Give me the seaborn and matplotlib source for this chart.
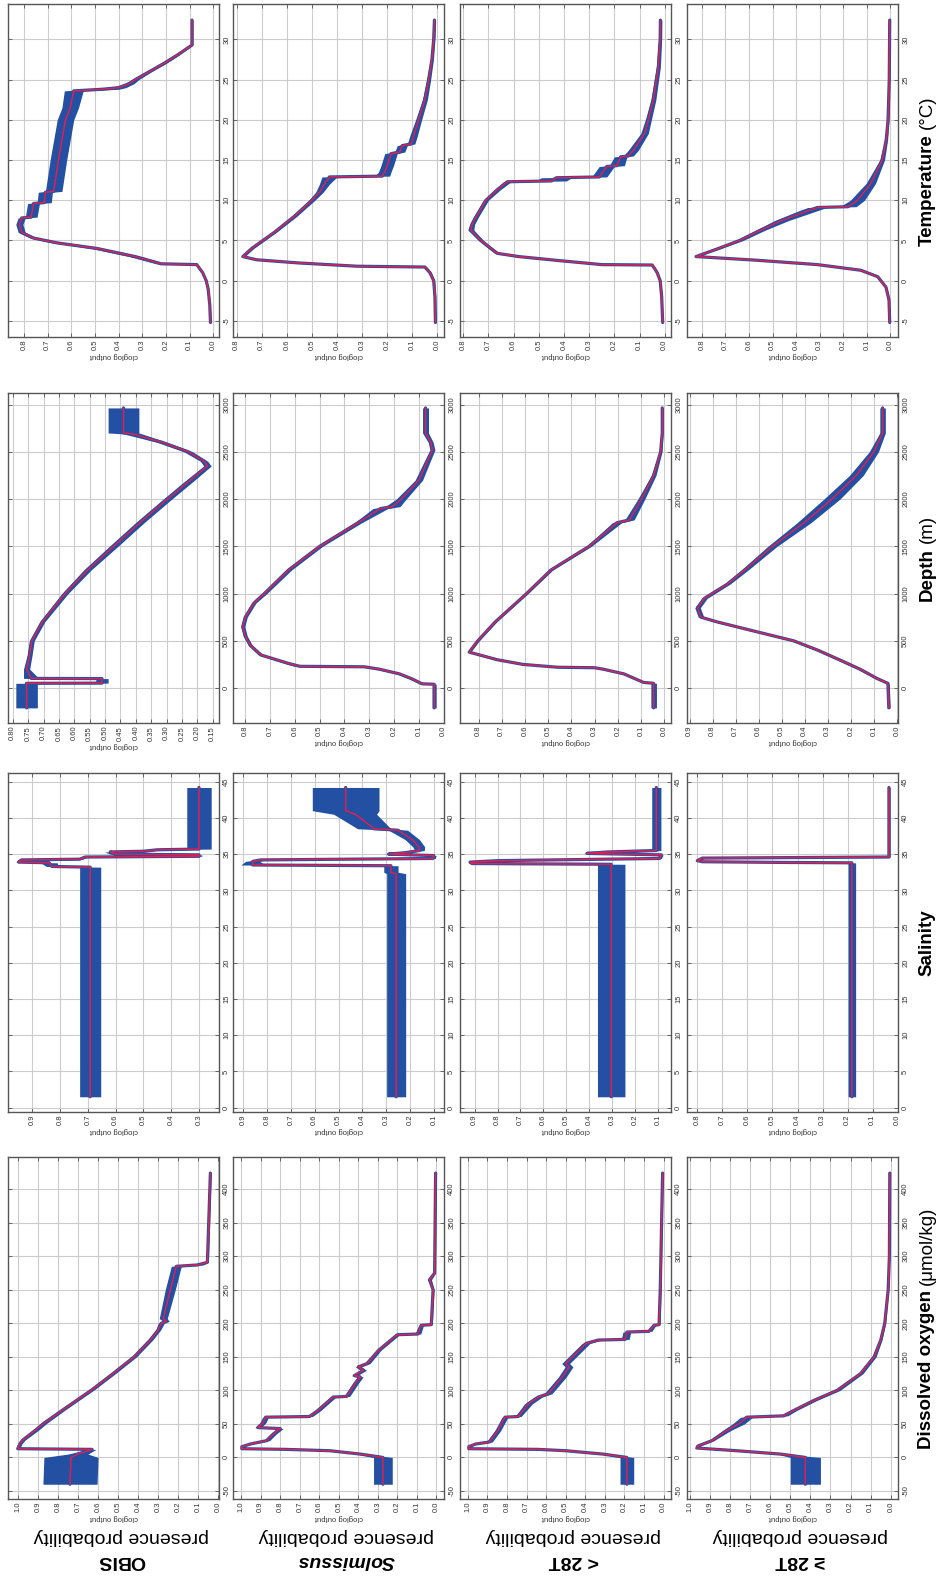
"""
MaxEnt response curves (cloglog output) for four presence sets and four
environmental variables; the whole figure is laid out turned a quarter turn,
so each variable runs up the panel and the probability runs right-to-left.
"""

import numpy as np
import matplotlib
matplotlib.use("Agg")
import matplotlib.pyplot as plt
import matplotlib.ticker as mticker
import seaborn as sns

# ── Data ──────────────────────────────────────────────────────────────────────
# per panel: variable value, mean cloglog output, half width of the band

# Temperature (°C)
temp_obis_x = [-5.2, -3, -1, 0, 1, 1.8, 2.0, 2.1, 3.0, 4.0, 4.7, 5.3, 6.0, 7.0, 7.8, 7.9, 9.6,
               9.7, 11.0, 11.1, 15.0, 20.0, 21.5, 23.6, 23.8, 24.0, 24.5, 25.0, 26.0, 27.0,
               28.0, 29.0, 29.3, 32.4]
temp_obis_y = [0.012, 0.015, 0.022, 0.03, 0.045, 0.065, 0.07, 0.22, 0.33, 0.49, 0.66, 0.76,
               0.81, 0.82, 0.81, 0.77, 0.76, 0.715, 0.71, 0.675, 0.655, 0.625, 0.605, 0.59,
               0.47, 0.40, 0.355, 0.33, 0.27, 0.21, 0.155, 0.105, 0.09, 0.09]
temp_obis_w = [0.003, 0.003, 0.003, 0.003, 0.003, 0.003, 0.003, 0.02, 0.025, 0.025, 0.02,
               0.015, 0.015, 0.015, 0.015, 0.025, 0.025, 0.03, 0.03, 0.035, 0.035, 0.035,
               0.035, 0.04, 0.07, 0.03, 0.02, 0.015, 0.01, 0.01, 0.008, 0.005, 0.004, 0.004]

temp_sol_x = [-5.2, -2, 0, 1, 1.7, 1.8, 2.2, 2.6, 3.0, 4.0, 6.0, 8.0, 10.0, 11.0, 12.0, 12.9,
              13.0, 13.5, 14.3, 15.8, 16.0, 16.8, 17.0, 18.0, 20.0, 22.5, 25.0, 27.5, 30.0, 32.4]
temp_sol_y = [0.008, 0.01, 0.015, 0.03, 0.05, 0.32, 0.55, 0.72, 0.775, 0.74, 0.65, 0.57, 0.50,
              0.47, 0.45, 0.43, 0.22, 0.21, 0.20, 0.185, 0.15, 0.14, 0.105, 0.095, 0.075, 0.05,
              0.035, 0.022, 0.015, 0.012]
temp_sol_w = [0.003, 0.003, 0.004, 0.006, 0.008, 0.02, 0.015, 0.01, 0.008, 0.008, 0.008, 0.01,
              0.012, 0.015, 0.02, 0.03, 0.03, 0.025, 0.025, 0.025, 0.02, 0.02, 0.015, 0.015,
              0.012, 0.01, 0.008, 0.006, 0.005, 0.005]

temp_lo_x = [-5.2, -2, 0, 1.0, 1.5, 1.95, 2.0, 2.5, 3.0, 3.4, 4.0, 5.0, 6.3, 7.0, 7.9, 10.0,
             11.3, 12.3, 12.4, 12.8, 12.9, 14.2, 14.3, 15.4, 15.5, 16.2, 18.3, 20.0, 22.5,
             26.6, 30.0, 32.4]
temp_lo_y = [0.008, 0.012, 0.018, 0.03, 0.04, 0.05, 0.25, 0.42, 0.58, 0.665, 0.69, 0.73, 0.77,
             0.765, 0.75, 0.71, 0.665, 0.625, 0.45, 0.43, 0.26, 0.23, 0.19, 0.175, 0.145, 0.125,
             0.08, 0.065, 0.045, 0.025, 0.018, 0.017]
temp_lo_w = [0.002, 0.002, 0.003, 0.004, 0.005, 0.005, 0.02, 0.02, 0.015, 0.01, 0.01, 0.01,
             0.012, 0.01, 0.01, 0.01, 0.012, 0.015, 0.06, 0.06, 0.03, 0.03, 0.03, 0.025, 0.02,
             0.02, 0.015, 0.012, 0.01, 0.008, 0.006, 0.006]

temp_hi_x = [-5.2, -2.4, -0.8, 0.5, 1.3, 2.0, 2.55, 3.0, 4.0, 5.0, 6.3, 7.5, 8.8, 9.1, 9.2,
             10.0, 12.1, 15.0, 17.5, 20.0, 25.0, 32.4]
temp_hi_y = [0.003, 0.006, 0.019, 0.054, 0.126, 0.31, 0.57, 0.825, 0.73, 0.64, 0.55, 0.46, 0.34,
             0.31, 0.18, 0.14, 0.083, 0.035, 0.018, 0.01, 0.005, 0.003]
temp_hi_w = [0.002, 0.002, 0.004, 0.006, 0.008, 0.01, 0.01, 0.005, 0.01, 0.015, 0.02, 0.03,
             0.04, 0.04, 0.035, 0.03, 0.02, 0.01, 0.006, 0.004, 0.002, 0.002]

# Depth (m)
depth_obis_x = [-210, 50, 52, 100, 102, 200, 350, 500, 700, 1000, 1250, 1500, 1750, 2000, 2200,
                2350, 2400, 2500, 2600, 2690, 2700, 2965]
depth_obis_y = [0.755, 0.755, 0.51, 0.51, 0.74, 0.755, 0.745, 0.738, 0.704, 0.63, 0.557, 0.472,
                0.387, 0.297, 0.223, 0.167, 0.178, 0.229, 0.314, 0.41, 0.44, 0.44]
depth_obis_w = [0.035, 0.035, 0.02, 0.02, 0.025, 0.01, 0.008, 0.008, 0.008, 0.01, 0.012, 0.014,
                0.014, 0.014, 0.014, 0.012, 0.012, 0.014, 0.016, 0.03, 0.05, 0.05]

depth_sol_x = [-210, 40, 45, 100, 150, 200, 225, 230, 260, 350, 450, 550, 650, 750, 900, 1000,
               1250, 1500, 1750, 1900, 1920, 2000, 2200, 2400, 2520, 2600, 2700, 2965]
depth_sol_y = [0.038, 0.038, 0.087, 0.13, 0.178, 0.26, 0.32, 0.58, 0.625, 0.737, 0.779, 0.80,
               0.81, 0.80, 0.765, 0.723, 0.625, 0.50, 0.345, 0.255, 0.206, 0.171, 0.10, 0.066,
               0.045, 0.052, 0.073, 0.073]
depth_sol_w = [0.008, 0.008, 0.01, 0.012, 0.012, 0.015, 0.02, 0.02, 0.015, 0.01, 0.008, 0.008,
               0.008, 0.008, 0.008, 0.01, 0.012, 0.012, 0.015, 0.03, 0.03, 0.02, 0.015, 0.012,
               0.01, 0.01, 0.012, 0.012]

depth_lo_x = [-210, 50, 60, 150, 200, 215, 220, 250, 300, 380, 500, 700, 1000, 1250, 1500, 1750,
              1780, 2000, 2250, 2500, 2700, 2965]
depth_lo_y = [0.046, 0.046, 0.09, 0.174, 0.264, 0.30, 0.458, 0.608, 0.72, 0.84, 0.803, 0.728,
              0.593, 0.488, 0.324, 0.204, 0.15, 0.099, 0.046, 0.016, 0.009, 0.009]
depth_lo_w = [0.012, 0.012, 0.01, 0.01, 0.012, 0.015, 0.015, 0.012, 0.01, 0.006, 0.006, 0.006,
              0.006, 0.008, 0.01, 0.02, 0.02, 0.015, 0.01, 0.006, 0.004, 0.004]

depth_hi_x = [-210, 50, 100, 200, 300, 400, 500, 600, 700, 750, 850, 950, 1100, 1250, 1500, 1750,
              2000, 2250, 2500, 2700, 2965]
depth_hi_y = [0.035, 0.039, 0.085, 0.16, 0.25, 0.342, 0.448, 0.615, 0.78, 0.85, 0.865, 0.835,
              0.736, 0.66, 0.54, 0.403, 0.282, 0.176, 0.10, 0.062, 0.062]
depth_hi_w = [0.006, 0.006, 0.01, 0.012, 0.012, 0.012, 0.012, 0.012, 0.012, 0.012, 0.012, 0.012,
              0.012, 0.015, 0.02, 0.03, 0.035, 0.03, 0.02, 0.012, 0.012]

# Salinity
sal_obis_x = [1.5, 33.2, 33.3, 33.8, 33.9, 34.2, 34.3, 34.6, 34.7, 34.9, 35.0, 35.3, 35.4, 35.6,
              35.7, 44.2]
sal_obis_y = [0.692, 0.692, 0.83, 0.84, 0.95, 0.94, 0.73, 0.71, 0.30, 0.30, 0.60, 0.62, 0.50,
              0.45, 0.30, 0.30]
sal_obis_w = [0.038, 0.038, 0.02, 0.03, 0.01, 0.01, 0.01, 0.01, 0.01, 0.01, 0.02, 0.02, 0.02,
              0.02, 0.044, 0.044]

sal_sol_x = [1.5, 32.3, 32.5, 33.4, 33.5, 34.0, 34.2, 34.4, 34.8, 35.0, 35.2, 35.5, 36.0, 37.0,
             38.3, 38.5, 40.5, 41.0, 44.2]
sal_sol_y = [0.258, 0.258, 0.28, 0.28, 0.86, 0.86, 0.827, 0.104, 0.10, 0.29, 0.22, 0.16, 0.163,
             0.19, 0.25, 0.35, 0.43, 0.47, 0.47]
sal_sol_w = [0.04, 0.04, 0.03, 0.03, 0.05, 0.03, 0.02, 0.01, 0.01, 0.02, 0.02, 0.02, 0.025, 0.03,
             0.04, 0.07, 0.09, 0.14, 0.14]

sal_lo_x = [1.5, 33.6, 33.7, 33.9, 34.1, 34.4, 34.9, 35.1, 35.3, 35.5, 44.2]
sal_lo_y = [0.304, 0.304, 0.912, 0.92, 0.80, 0.093, 0.085, 0.41, 0.32, 0.107, 0.107]
sal_lo_w = [0.06, 0.06, 0.01, 0.01, 0.01, 0.008, 0.008, 0.02, 0.02, 0.02, 0.02]

sal_hi_x = [1.5, 33.8, 33.85, 33.95, 34.1, 34.45, 34.6, 44.2]
sal_hi_y = [0.183, 0.183, 0.45, 0.78, 0.80, 0.78, 0.035, 0.035]
sal_hi_w = [0.015, 0.015, 0.01, 0.01, 0.01, 0.01, 0.005, 0.005]

# Dissolved oxygen (µmol/kg)
do_obis_x = [-40, 0, 5, 12, 13, 20, 26, 41, 51, 71, 101, 125, 150, 175, 190, 200, 203, 207, 250,
             285, 287, 291, 424]
do_obis_y = [0.74, 0.735, 0.70, 0.63, 1.0, 0.99, 0.975, 0.91, 0.87, 0.775, 0.63, 0.525, 0.42,
             0.34, 0.30, 0.285, 0.26, 0.275, 0.24, 0.21, 0.105, 0.055, 0.04]
do_obis_w = [0.135, 0.135, 0.05, 0.02, 0.01, 0.01, 0.012, 0.015, 0.015, 0.012, 0.012, 0.012,
             0.012, 0.012, 0.012, 0.015, 0.015, 0.02, 0.025, 0.025, 0.03, 0.005, 0.004]

do_sol_x = [-40, 0, 5, 10, 12, 13, 16, 20, 25, 35, 43, 44.5, 51, 60, 61, 70, 90, 91, 110, 120,
            122, 130, 135, 140, 160, 183, 184, 197, 198, 250, 265, 275, 424]
do_sol_y = [0.274, 0.274, 0.39, 0.546, 0.77, 0.997, 0.997, 0.953, 0.87, 0.835, 0.80, 0.915, 0.89,
            0.875, 0.65, 0.607, 0.529, 0.459, 0.416, 0.39, 0.42, 0.373, 0.40, 0.355, 0.295,
            0.20, 0.095, 0.078, 0.026, 0.017, 0.035, 0.009, 0.004]
do_sol_w = [0.048, 0.048, 0.02, 0.015, 0.01, 0.005, 0.005, 0.01, 0.015, 0.015,
            0.015, 0.015, 0.015, 0.015, 0.015, 0.015, 0.015, 0.015, 0.015, 0.015,
            0.015, 0.015, 0.015, 0.015, 0.012, 0.012, 0.015, 0.012, 0.005, 0.005,
            0.01, 0.004, 0.003]

do_lo_x = [-40, 0, 5, 10, 12, 13, 16, 20, 23, 40, 60, 61, 80, 90, 95, 120, 135, 140, 170, 175,
           176, 187, 188, 197, 198, 250, 424]
do_lo_y = [0.1875, 0.1875, 0.31, 0.50, 0.64, 0.995, 0.995, 0.96, 0.89, 0.847, 0.81, 0.743, 0.69,
           0.64, 0.59, 0.517, 0.483, 0.50, 0.396, 0.335, 0.196, 0.1875, 0.075, 0.049, 0.023,
           0.017, 0.005]
do_lo_w = [0.035, 0.035, 0.015, 0.01, 0.01, 0.005, 0.005, 0.01, 0.015, 0.015, 0.015, 0.015,
           0.02, 0.02, 0.02, 0.02, 0.02, 0.02, 0.02, 0.02, 0.02, 0.02, 0.015, 0.01, 0.005,
           0.004, 0.003]

do_hi_x = [-40, 0, 5, 10, 14, 17, 25, 40, 50, 60, 62, 70, 85, 100, 125, 150, 175, 200, 250, 300,
           424]
do_hi_y = [0.425, 0.425, 0.55, 0.767, 0.965, 0.96, 0.89, 0.817, 0.758, 0.717, 0.533, 0.483,
           0.383, 0.267, 0.15, 0.083, 0.05, 0.03, 0.013, 0.007, 0.005]
do_hi_w = [0.075, 0.075, 0.01, 0.01, 0.01, 0.008, 0.01, 0.02, 0.03, 0.03, 0.02, 0.015, 0.015,
           0.015, 0.012, 0.01, 0.006, 0.004, 0.003, 0.002, 0.002]

groups = ["OBIS", "Solmissus", "< 28T", "≥ 28T"]

# ── Style ─────────────────────────────────────────────────────────────────────
BLUE = "#2350A2"
RED = "#EC1C4C"
EDGE = "#555555"
sns.set_theme(style="whitegrid")
plt.rcParams["font.family"] = ["Liberation Sans", "DejaVu Sans"]

W, H = 937, 1578
fig = plt.figure(figsize=(W / 100, H / 100), dpi=100)

COL_LEFT = [8, 233, 460, 687]
COL_W = 211
# rows (top, bottom in px), variable tick step, variable limits, label
ROWS = [
    ((4, 337), 5, (-7.0, 34.4), ("Temperature", "(°C)"),
     [(temp_obis_x, temp_obis_y, temp_obis_w), (temp_sol_x, temp_sol_y, temp_sol_w),
      (temp_lo_x, temp_lo_y, temp_lo_w), (temp_hi_x, temp_hi_y, temp_hi_w)]),
    ((393, 723), 500, (-370, 3123), ("Depth", "(m)"),
     [(depth_obis_x, depth_obis_y, depth_obis_w), (depth_sol_x, depth_sol_y, depth_sol_w),
      (depth_lo_x, depth_lo_y, depth_lo_w), (depth_hi_x, depth_hi_y, depth_hi_w)]),
    ((773, 1112), 5, (-0.6, 46.2), ("Salinity", ""),
     [(sal_obis_x, sal_obis_y, sal_obis_w), (sal_sol_x, sal_sol_y, sal_sol_w),
      (sal_lo_x, sal_lo_y, sal_lo_w), (sal_hi_x, sal_hi_y, sal_hi_w)]),
    ((1157, 1499), 50, (-62, 448), ("Dissolved oxygen", "(μmol/kg)"),
     [(do_obis_x, do_obis_y, do_obis_w), (do_sol_x, do_sol_y, do_sol_w),
      (do_lo_x, do_lo_y, do_lo_w), (do_hi_x, do_hi_y, do_hi_w)]),
]


def draw_panel(ax, var, prob, half, var_step, var_lim):
    var = np.asarray(var, float)
    prob = np.asarray(prob, float)
    half = np.asarray(half, float)
    lo, hi = prob - half, prob + half
    ax.fill_betweenx(var, lo, hi, color=BLUE, lw=0, zorder=2)
    sns.lineplot(x=prob, y=var, ax=ax, sort=False, estimator=None, orient="y",
                 color=BLUE, lw=2.3, zorder=3)
    sns.lineplot(x=prob, y=var, ax=ax, sort=False, estimator=None, orient="y",
                 color=RED, lw=1.0, zorder=4)

    pmin, pmax = lo.min(), hi.max()
    pad = 0.04 * (pmax - pmin)
    ax.set_xlim(pmax + pad, pmin - pad)
    ax.set_ylim(*var_lim)

    step = 0.05 if (pmax - pmin) < 0.7 else 0.1
    ax.xaxis.set_major_locator(mticker.MultipleLocator(step))
    ax.xaxis.set_major_formatter(mticker.FormatStrFormatter("%.2f" if step < 0.1 else "%.1f"))
    ax.yaxis.set_major_locator(mticker.MultipleLocator(var_step))
    ax.yaxis.set_major_formatter(mticker.FormatStrFormatter("%d"))

    ax.set_facecolor("white")
    ax.grid(True, color="#cccccc", lw=0.8)
    ax.set_axisbelow(True)
    for sp in ax.spines.values():
        sp.set_color(EDGE)
        sp.set_linewidth(1.0)
    ax.tick_params(axis="both", direction="in", length=3, width=0.6, color=EDGE,
                   labelsize=5.5, labelcolor="#333333",
                   top=True, bottom=True, left=True, right=True,
                   labelleft=False, labelright=True, labelbottom=True)
    ax.tick_params(axis="x", pad=2)
    ax.tick_params(axis="y", pad=3)
    for lab in ax.get_xticklabels():
        lab.set_rotation(90)
        lab.set_ha("center")
        lab.set_va("top")
    for lab in ax.get_yticklabels():
        lab.set_rotation(90)
        lab.set_ha("left")
        lab.set_va("center")
    ax.set_xlabel("cloglog output", fontsize=5.5, rotation=180, labelpad=1, color="#333333")
    ax.set_ylabel("")


for (top, bot), var_step, var_lim, _, curves in ROWS:
    for c, (vx, vy, vw) in enumerate(curves):
        ax = fig.add_axes([COL_LEFT[c] / W, 1 - bot / H, COL_W / W, (bot - top) / H])
        draw_panel(ax, vx, vy, vw, var_step, var_lim)

# ── Group labels (bottom, upside down) ───────────────────────────────────────
for c, name in enumerate(groups):
    cx = (COL_LEFT[c] + COL_W / 2 + 8) / W
    fig.text(cx, 1 - 1537 / H, "presence probability", rotation=180,
             ha="center", va="center", fontsize=14, color="black")
    fig.text(cx, 1 - 1561 / H, name, rotation=180, ha="center", va="center",
             fontsize=14, fontweight="bold",
             style="italic" if name == "Solmissus" else "normal", color="black")

# ── Variable labels (right, reading upwards) ─────────────────────────────────
renderer = fig.canvas.get_renderer()
LX = 927
for (top, bot), _, _, (bold, unit), _ in ROWS:
    yc = H - (top + bot) / 2
    t1 = fig.text(LX / W, 0, bold, rotation=90, ha="center", va="bottom",
                  fontsize=13.5, fontweight="bold", color="black")
    h1 = t1.get_window_extent(renderer).height
    if unit:
        t2 = fig.text(LX / W, 0, unit, rotation=90, ha="center", va="bottom",
                      fontsize=13.5, color="black")
        h2 = t2.get_window_extent(renderer).height
        gap = 5
        y0 = yc - (h1 + gap + h2) / 2
        t1.set_y(y0 / H)
        t2.set_y((y0 + h1 + gap) / H)
    else:
        t1.set_y((yc - h1 / 2) / H)

fig.savefig("out.png", dpi=100)
